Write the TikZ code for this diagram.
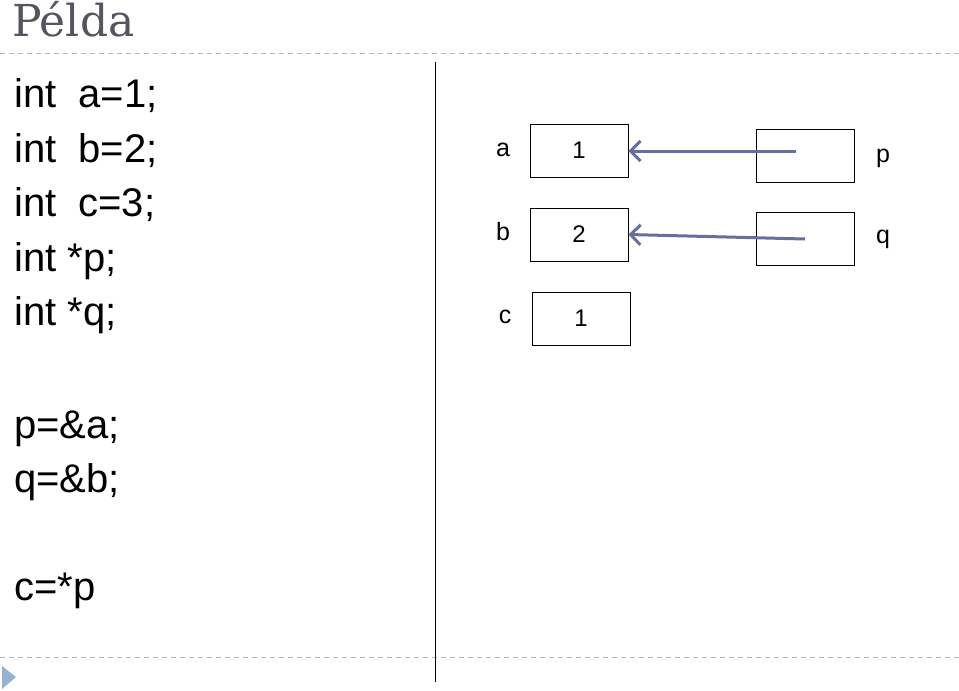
\documentclass[tikz,border=0pt]{standalone}
\usepackage{fontspec}
\setmainfont{Liberation Sans}
\newfontfamily\titlefont{DejaVu Serif}
\usetikzlibrary{arrows.meta}

\definecolor{titlegray}{HTML}{55555F}
\definecolor{ptrblue}{HTML}{6670A0}
\definecolor{rulegray}{HTML}{B4B8BC}
\definecolor{bulletblue}{HTML}{93B3D2}

\tikzset{
  codeline/.style={anchor=base west,inner sep=0pt,font=\fontsize{40}{48}\selectfont},
  cell/.style={draw,thick,minimum width=98pt,minimum height=53pt,inner sep=0pt,font=\fontsize{24}{28}\selectfont},
  varname/.style={anchor=base,inner sep=0pt,font=\fontsize{25}{28}\selectfont},
  pointer/.style={ptrblue,line width=3pt,-{Straight Barb[length=10pt,width=20pt,line width=3pt]}}
}

\begin{document}
\begin{tikzpicture}[x=1pt,y=-1pt]
  \useasboundingbox (0,0) rectangle (959,691);

  \node[anchor=base west,inner sep=0pt,text=titlegray,font=\titlefont\fontsize{44}{50}\selectfont] (title) at (12,36) {Példa};
  \draw[rulegray,thick,dash pattern=on 5pt off 4pt] (0,53) -- (959,53);
  \draw[rulegray,thick,dash pattern=on 5pt off 4pt] (0,657) -- (959,657);
  \fill[bulletblue] (2,666) -- (16,677) -- (2,689) -- cycle;
  \draw[thick] (435,62) -- (435,682);

  \node[codeline] (l1) at (14,107) {int \ a=1;};
  \node[codeline] (l2) at (14,162) {int \ b=2;};
  \node[codeline] (l3) at (14,216) {int \ c=3;};
  \node[codeline] (l4) at (14,271) {int *p;};
  \node[codeline] (l5) at (14,325) {int *q;};
  \node[codeline] (l6) at (14,438) {p=\&a;};
  \node[codeline] (l7) at (14,492) {q=\&b;};
  \node[codeline] (l8) at (14,600) {c=*p};

  \node[cell] (a) at (579,150.5) {1};
  \node[cell] (b) at (579,234.5) {2};
  \node[cell] (c) at (581,318.5) {1};
  \node[cell] (p) at (805.5,155.5) {};
  \node[cell] (q) at (805.5,239) {};

  \node[varname] (aname) at (503,156) {a};
  \node[varname] (bname) at (503,240) {b};
  \node[varname] (cname) at (505,323) {c};
  \node[varname] (pname) at (883,162) {p};
  \node[varname] (qname) at (883,243) {q};

  \coordinate (pstart) at (796,151);
  \coordinate (qstart) at (805,239);
  \draw[pointer] (pstart) -- (a.east |- pstart);
  \draw[pointer] (qstart) -- (b.east);
\end{tikzpicture}
\end{document}
